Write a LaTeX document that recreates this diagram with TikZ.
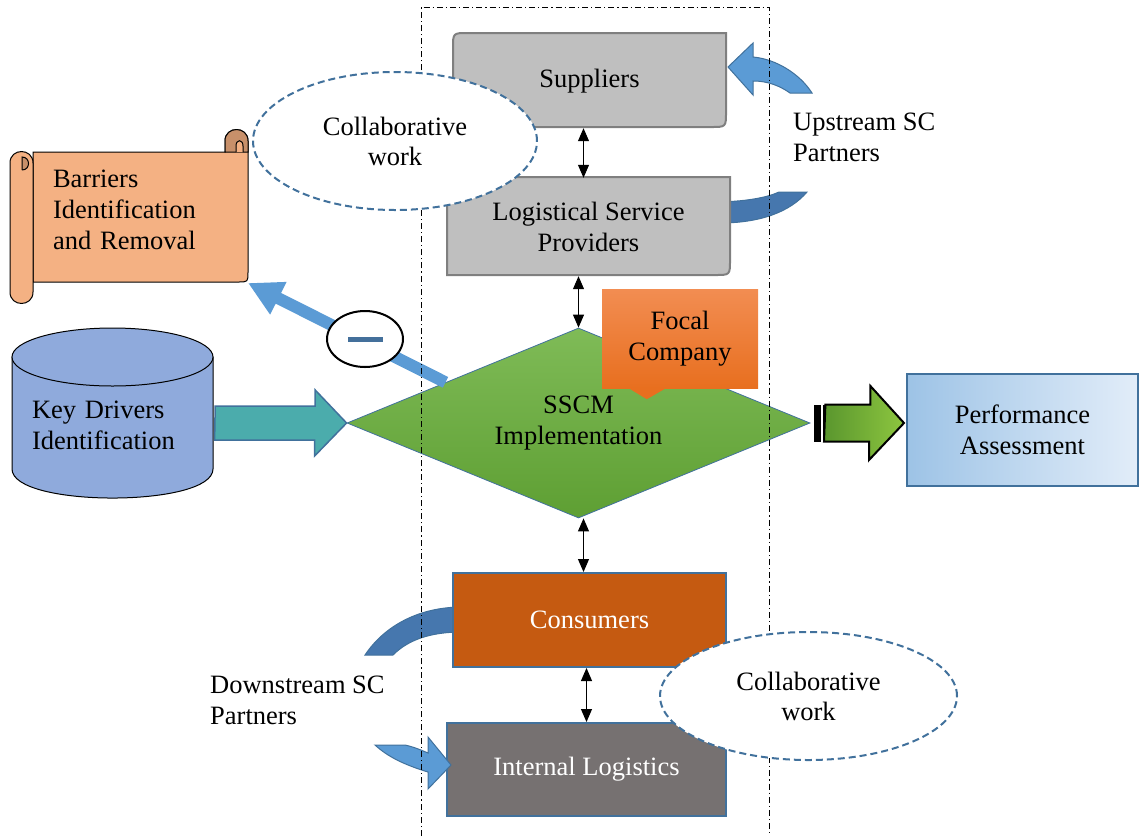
\documentclass[tikz,border=0pt]{standalone}
\usepackage{fontspec}
\setmainfont{Liberation Serif}
\usetikzlibrary{shapes.geometric,arrows.meta,calc}

\definecolor{boxgrey}{HTML}{BFBFBF}
\definecolor{boxedge}{HTML}{7F7F7F}
\definecolor{blueedge}{HTML}{41719C}
\definecolor{lightblue}{HTML}{5B9BD5}
\definecolor{darkblue}{HTML}{4677AE}
\definecolor{scrollfill}{HTML}{F4B183}
\definecolor{curlfill}{HTML}{C8906A}
\definecolor{drumfill}{HTML}{8FAADC}
\definecolor{tealfill}{HTML}{4BACAC}
\definecolor{greentop}{HTML}{7FBB57}
\definecolor{greenbot}{HTML}{5E9F33}
\definecolor{orangetop}{HTML}{F28D52}
\definecolor{orangebot}{HTML}{E86F1F}
\definecolor{consfill}{HTML}{C55A11}
\definecolor{intfill}{HTML}{767171}
\definecolor{perfleft}{HTML}{9DC3E6}
\definecolor{perfright}{HTML}{E2EDF9}
\definecolor{arrowdark}{HTML}{5A962E}
\definecolor{arrowlight}{HTML}{8DC63F}
\definecolor{minusbar}{HTML}{44709B}

\tikzset{
  every node/.style={font=\fontsize{26.5}{31}\selectfont, inner sep=0pt},
  frameline/.style={line width=0.9pt, dash pattern=on 6pt off 3pt on 1.2pt off 3pt},
  greyshape/.style={fill=boxgrey, draw=boxedge, line width=2pt},
  textbox/.style={align=center},
  scroll/.style={fill=scrollfill, draw=black, line width=1pt},
  curl/.style={fill=curlfill, draw=black, line width=1pt},
  drum/.style={fill=drumfill, draw=black, line width=1pt},
  collab/.style={ellipse, draw=blueedge, fill=white, line width=2pt,
    dash pattern=on 7pt off 4pt, align=center,
    font=\fontsize{26.5}{30}\selectfont},
  colorbox/.style={rectangle, draw=blueedge, line width=2pt, text=white},
  biarrow/.style={line width=1pt, <->, >={Triangle[width=11pt,length=13pt]}},
  darkband/.style={fill=darkblue, draw=blueedge, line width=1pt},
  lightband/.style={fill=lightblue, draw=blueedge, line width=1pt},
}

\begin{document}
\begin{tikzpicture}[x=1pt,y=-1pt]
\useasboundingbox (0,0) rectangle (1139,836);

%%% bands lying behind the boxes %%%
\draw[darkband] (720,202) .. controls (750,201) and (768,197) .. (779,192)
  -- (807,192) .. controls (790,212) and (760,223) .. (720,223) -- cycle;
\draw[darkband] (462,607) .. controls (420,607) and (385,625) .. (365,655)
  -- (393,655) .. controls (408,640) and (430,632) .. (462,632) -- cycle;

%%% upstream partners %%%
\draw[greyshape] (453,127) -- (453,48) .. controls (453,33) .. (468,33) -- (726,33)
  -- (726,112) .. controls (726,127) .. (711,127) -- cycle;
\node[textbox, minimum width=273pt, minimum height=94pt] (sup) at (589.5,81) {Suppliers};
\draw[greyshape] (447,275) -- (447,192) .. controls (447,177) .. (462,177) -- (730,177)
  -- (730,260) .. controls (730,275) .. (715,275) -- cycle;
\node[textbox, minimum width=283pt, minimum height=98pt] (lsp) at (588.5,227)
  {Logistical Service\\Providers};

%%% barriers scroll %%%
\draw[scroll] (33,152) -- (225,152) -- (225,141) .. controls (225,125.7) and (248,125.7) .. (248,141)
  -- (248,272) .. controls (248,282) .. (238,282) -- (33,282) -- cycle;
\draw[curl] (225,152) -- (225,141) .. controls (225,125.7) and (248,125.7) .. (248,141) -- (248,152) -- cycle;
\draw[scroll] (236,152) -- (236,146) .. controls (236,139) and (243,139) .. (243,146) -- (243,152);
\draw[scroll] (10,163) .. controls (10,147.7) and (33,147.7) .. (33,163)
  -- (33,292) .. controls (33,307.3) and (10,307.3) .. (10,292) -- cycle;
\draw[curl] (22,170) -- (22,157) .. controls (30.7,157) and (30.7,170) .. (22,170);
\node[align=left, text width=175pt, minimum height=116pt] (bar) at (140.5,210)
  {Barriers\\Identification\\and Removal};
\coordinate (bartip) at (248,283);

%%% key drivers drum %%%
\draw[drum] (12,357) -- (12,469) .. controls (12,507.7) and (213,507.7) .. (213,469) -- (213,357) -- cycle;
\draw[drum] (112.5,357) ellipse[x radius=100.5, y radius=29];
\node[align=left, text width=161pt, inner xsep=20pt, minimum height=100pt] (kd) at (112.5,425)
  {Key Drivers\\Identification};

%%% focal company %%%
\node[diamond, aspect=2.44, draw=blueedge, line width=0.8pt, top color=greentop, bottom color=greenbot,
  minimum width=463pt, minimum height=190pt, align=center] (sscm) at (578.5,423)
  {SSCM\\Implementation};
\node[rectangle, top color=orangetop, bottom color=orangebot, minimum width=156pt,
  minimum height=99pt, align=center] (focal) at (680,338.5) {Focal\\Company};
\fill[orangebot] ($(focal.south west)+(26,-0.5)$) -- ($(focal.south west)+(45,11)$)
  -- ($(focal.south west)+(65,-0.5)$) -- cycle;

%% barrier arrow
\draw[lightblue, line width=12pt, -{Triangle[width=34pt,length=34pt]}] (sscm.163) -- (bartip);

%% drivers arrow
\draw[fill=tealfill, draw=blueedge, line width=1.5pt] ($(kd.east |- sscm.west)+(2,-17)$) -- ++(100,0) -- ++(0,-16)
  -- (sscm.west) -- ++(-32,33) -- ++(0,-16) -- ++(-100,0) -- cycle;

%% performance
\node[rectangle, draw=blueedge, line width=2pt, left color=perfleft, right color=perfright,
  minimum width=231pt, minimum height=112pt, align=center] (perf) at (1022.5,430)
  {Performance\\Assessment};
\fill[black] ($(sscm.east)+(4,-18.5)$) rectangle ($(sscm.east)+(11,18.5)$);
\fill[black] ($(sscm.east)+(12.5,-18.5)$) rectangle ($(sscm.east)+(15,18.5)$);
\draw[left color=arrowdark, right color=arrowlight, draw=black, line width=2pt]
  ($(sscm.east)+(15,-18.5)$) -- ++(45,0) -- ++(0,-18.5) -- ($(perf.west |- sscm.east)+(-2,0)$)
  -- ++(-35,37) -- ++(0,-18.5) -- ++(-45,0) -- cycle;

%%% downstream partners %%%
\node[colorbox, fill=consfill, minimum width=273pt, minimum height=94pt] (con) at (589.5,620) {Consumers};
\node[colorbox, fill=intfill, minimum width=279pt, minimum height=93pt] (il) at (586.5,769.5) {Internal Logistics};

%% curved arrows
\draw[lightband] (728,67) -- (753,43) -- (753,57) .. controls (776,59) and (800,74) .. (812,93)
  -- (790,93) .. controls (780,86) and (768,81) .. (753,81) -- (753,95) -- cycle;
\draw[lightband] (375,745) -- (405,745) .. controls (414,747) and (421,750) .. (428,753)
  -- (428,737) -- (451,765) -- (428,789) -- (428,772) .. controls (405,765) and (388,757) .. (375,745) -- cycle;

\node[anchor=west, align=left] (up) at (793,137) {Upstream SC\\Partners};
\node[anchor=west, align=left] (down) at (210,700) {Downstream SC\\Partners};

%% company frame
\draw[frameline] (421,836) -- (421,7) -- (769,7) -- (769,836);

\node[collab, minimum width=284pt, minimum height=138pt] (cw1) at (395,141) {Collaborative\\work};
\node[collab, minimum width=297pt, minimum height=128pt] (cw2) at (808.5,696) {Collaborative\\work};

%% links along the chain
\draw[biarrow] ($(sup.south)+(-6,0)$) -- ($(sup.south |- lsp.north)+(-6,0)$);
\draw[biarrow] (lsp.south -| sscm.north) -- (sscm.north);
\draw[biarrow] ($(con.north |- sscm.south)+(-6,0)$) -- ($(con.north)+(-6,0)$);
\draw[biarrow] ($(con.south)+(-3,0)$) -- ($(con.south |- il.north)+(-3,0)$);

%% negative effect
\node[ellipse, draw=black, fill=white, line width=2pt, minimum width=76pt, minimum height=56pt] (neg) at (365,339) {};
\fill[minusbar] ($(neg.center)+(-17,-2.5)$) rectangle ($(neg.center)+(18,2.5)$);

\end{tikzpicture}
\end{document}
